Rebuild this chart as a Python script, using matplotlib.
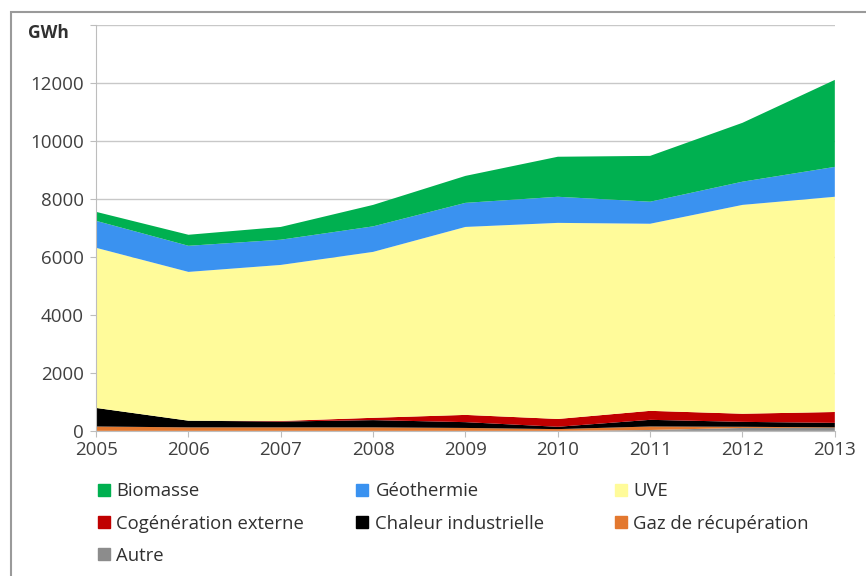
import numpy as np
import matplotlib.pyplot as plt
import matplotlib.patches as patches
from matplotlib.lines import Line2D

plt.rcParams['font.family'] = ['Open Sans', 'DejaVu Sans']

years = [2005, 2006, 2007, 2008, 2009, 2010, 2011, 2012, 2013]

# stacked from bottom to top (GWh)
autre = [0, 0, 0, 0, 0, 0, 30, 100, 100]
gaz = [150, 120, 120, 120, 100, 60, 120, 40, 20]
chaleur = [640, 230, 200, 250, 200, 80, 230, 170, 155]
cogen = [0, 0, 20, 80, 250, 270, 310, 280, 375]
uve = [5520, 5130, 5380, 5720, 6480, 6760, 6450, 7200, 7420]
geo = [930, 900, 870, 880, 830, 900, 760, 800, 1030]
biomasse = [310, 380, 440, 740, 930, 1380, 1580, 2030, 3000]

labels = ["Autre", "Gaz de récupération", "Chaleur industrielle",
          "Cogénération externe", "UVE", "Géothermie", "Biomasse"]
colors = ["#8c8c8c", "#e3782f", "#000000", "#c00000",
          "#fffb9a", "#3a92f0", "#00b050"]

fig = plt.figure(figsize=(8.66, 5.76), dpi=100)
ax = fig.add_axes([0.111, 0.252, 0.853, 0.705])

ax.stackplot(years, autre, gaz, chaleur, cogen, uve, geo, biomasse,
             colors=colors, linewidth=0, zorder=2)

ax.set_xlim(2005, 2013)
ax.set_ylim(0, 14000)
ax.set_xticks(years)
ax.set_yticks(range(0, 14001, 2000))
ax.set_yticklabels([str(v) for v in range(0, 12001, 2000)] + [""])
ax.grid(axis="y", color="#c8c8c8", linewidth=1, zorder=0)
ax.tick_params(axis="both", labelsize=13.5, colors="#404040", length=4,
               color="#bdbdbd")
ax.tick_params(axis="y", pad=5)
ax.tick_params(axis="x", pad=3)
for s in ["top", "right"]:
    ax.spines[s].set_visible(False)
for s in ["left", "bottom"]:
    ax.spines[s].set_color("#bdbdbd")

fig.text(0.032, 0.934, "GWh", fontsize=12.5, fontweight="bold", color="#303030")

# outer frame
fig.patches.append(patches.Rectangle((0.013, -0.01), 1.0, 0.99, transform=fig.transFigure,
                                     fill=False, edgecolor="#9a9a9a", linewidth=1.5))

# legend in three columns
def handle(c):
    return Line2D([], [], marker="s", linestyle="none", markersize=9,
                  markerfacecolor=c, markeredgecolor=c)

cols = [
    (0.111, [("Biomasse", colors[6]), ("Cogénération externe", colors[3]), ("Autre", colors[0])]),
    (0.410, [("Géothermie", colors[5]), ("Chaleur industrielle", colors[2])]),
    (0.708, [("UVE", colors[4]), ("Gaz de récupération", colors[1])]),
]
for x, items in cols:
    fig.legend([handle(c) for _, c in items], [t for t, _ in items],
               loc="upper left", bbox_to_anchor=(x, 0.163), frameon=False,
               fontsize=13.3, handlelength=0.8, handletextpad=0.3,
               labelspacing=0.78, borderaxespad=0, borderpad=0,
               labelcolor="#303030")

fig.savefig("out.png", dpi=100)
